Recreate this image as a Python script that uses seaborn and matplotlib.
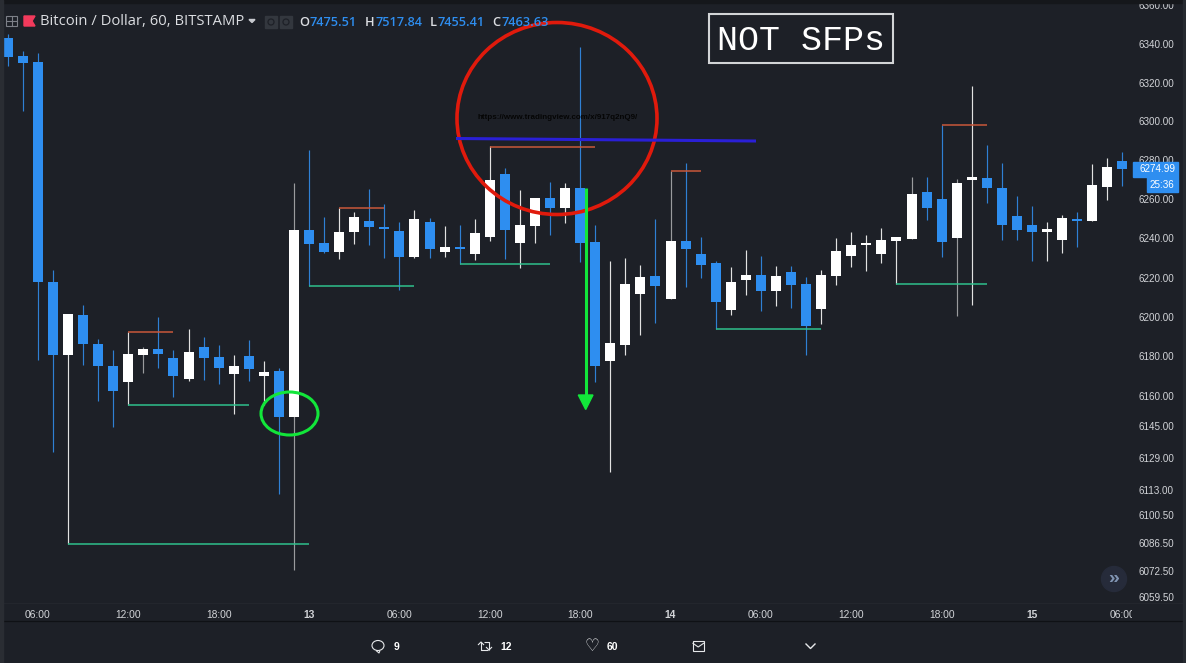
import numpy as np
import pandas as pd
import seaborn as sns
import matplotlib.pyplot as plt
import matplotlib.patches as mpatches
from matplotlib.transforms import Bbox

# hourly candles, hour 0 = 06:00 on the 12th
opens = [6343.1, 6333.8, 6330.7, 6217.7, 6180.7, 6201.0, 6186.2, 6175.1, 6167.1, 6180.7,
         6183.7, 6179.2, 6168.6, 6184.7, 6179.7, 6171.1, 6180.2, 6170.1, 6172.6, 6149.5,
         6244.2, 6237.6, 6233.0, 6243.2, 6248.8, 6245.8, 6243.7, 6230.4, 6248.3, 6233.0,
         6235.5, 6232.0, 6240.7, 6272.9, 6237.6, 6246.3, 6260.6, 6255.5, 6265.8, 6238.1,
         6177.7, 6185.7, 6211.6, 6220.8, 6209.1, 6238.6, 6232.0, 6227.4, 6203.5, 6218.8,
         6221.3, 6213.2, 6222.8, 6216.7, 6204.0, 6220.8, 6231.0, 6236.6, 6232.0, 6238.6,
         6239.6, 6263.7, 6260.1, 6240.1, 6269.9, 6270.9, 6265.8, 6251.4, 6246.8, 6243.2,
         6239.1, 6249.9, 6248.8, 6266.3, 6279.6]
highs = [6345.2, 6336.4, 6335.4, 6223.8, 6201.5, 6206.1, 6188.8, 6183.2, 6192.3, 6184.7,
         6199.9, 6183.2, 6193.9, 6189.8, 6185.7, 6180.7, 6188.3, 6177.7, 6174.1, 6268.3,
         6285.3, 6250.9, 6255.5, 6253.5, 6265.2, 6257.6, 6248.3, 6254.5, 6250.4, 6246.3,
         6246.8, 6249.9, 6287.3, 6276.0, 6264.7, 6260.6, 6268.8, 6268.3, 6338.5, 6246.8,
         6228.4, 6229.9, 6226.4, 6249.9, 6274.5, 6278.6, 6240.7, 6228.4, 6225.4, 6234.0,
         6231.0, 6225.9, 6225.9, 6220.3, 6223.8, 6240.1, 6243.2, 6241.7, 6245.3, 6240.7,
         6271.4, 6271.4, 6298.1, 6270.4, 6318.3, 6287.8, 6278.6, 6261.7, 6256.5, 6248.3,
         6251.9, 6253.5, 6278.1, 6281.0, 6284.2]
lows = [6328.6, 6305.3, 6178.2, 6131.9, 6085.9, 6175.6, 6157.5, 6144.4, 6155.5, 6171.6,
        6174.1, 6159.5, 6167.6, 6168.1, 6166.1, 6151.0, 6167.6, 6155.5, 6110.8, 6073.0,
        6215.7, 6232.5, 6229.4, 6237.1, 6236.6, 6229.9, 6213.7, 6229.9, 6229.9, 6230.4,
        6226.9, 6228.9, 6238.6, 6229.4, 6224.9, 6237.6, 6241.7, 6247.8, 6227.9, 6167.1,
        6121.9, 6180.7, 6190.8, 6196.9, 6209.1, 6215.2, 6219.8, 6193.9, 6201.0, 6211.1,
        6203.0, 6205.6, 6204.5, 6180.7, 6196.4, 6216.2, 6225.4, 6223.3, 6227.4, 6216.7,
        6239.6, 6249.4, 6230.4, 6200.5, 6206.1, 6258.1, 6239.1, 6239.1, 6228.4, 6228.4,
        6232.5, 6235.5, 6248.8, 6259.6, 6266.8]
closes = [6333.3, 6330.2, 6217.7, 6180.7, 6201.5, 6186.2, 6175.1, 6162.5, 6181.2, 6183.7,
          6181.2, 6170.1, 6182.2, 6179.2, 6174.1, 6175.1, 6173.6, 6172.1, 6149.5, 6244.2,
          6237.1, 6233.0, 6243.2, 6250.9, 6245.8, 6244.8, 6230.4, 6249.9, 6234.5, 6235.5,
          6234.5, 6242.7, 6269.9, 6244.2, 6246.8, 6260.6, 6255.5, 6265.8, 6237.6, 6175.1,
          6186.8, 6216.7, 6220.3, 6215.7, 6238.6, 6234.5, 6226.4, 6207.6, 6217.7, 6221.3,
          6213.2, 6220.8, 6216.2, 6195.4, 6221.3, 6233.5, 6236.6, 6237.6, 6239.1, 6240.7,
          6262.7, 6255.5, 6238.1, 6268.3, 6271.4, 6265.8, 6246.8, 6244.2, 6243.2, 6244.8,
          6250.4, 6248.8, 6267.3, 6276.5, 6275.5]
hours = list(range(-2, 73))
gray_wick_hours = [7, 17, 42, 58, 61]

# hand drawn swing levels: start hour, end hour, price
red_starts = [6, 20, 30, 42, 60]
red_ends = [9, 23, 37, 44, 63]
red_prices = [6192.3, 6255.3, 6286.8, 6274.5, 6298.1]
green_starts = [2, 6, 18, 28, 45, 57]
green_ends = [18, 14, 25, 34, 52, 63]
green_prices = [6085.9, 6155.5, 6215.5, 6226.9, 6193.9, 6216.7]

price_ticks = [6360, 6340, 6320, 6300, 6280, 6260, 6240, 6220, 6200, 6180, 6160,
               6145, 6129, 6113, 6100.5, 6086.5, 6072.5, 6059.5]
time_ticks = [0, 6, 12, 18, 24, 30, 36, 42, 48, 54, 60, 66, 72]
time_labels = ['06:00', '12:00', '18:00', '13', '06:00', '12:00', '18:00', '14',
               '06:00', '12:00', '18:00', '15', '06:00']

BG = '#1d2027'
BLUE = '#2e8ef0'
TXT = '#d2d4d8'

sns.set_theme(style='dark', rc={'axes.facecolor': BG, 'figure.facecolor': BG,
                                'lines.solid_capstyle': 'butt', 'axes.grid': False})
plt.rcParams['font.family'] = ['Liberation Sans', 'DejaVu Sans']

fig = plt.figure(figsize=(11.86, 6.63), dpi=100)
ax = fig.add_axes([3 / 1186, 60 / 663, 1129 / 1186, 600 / 663])
ax.set_yscale('log')

candles = pd.DataFrame({'hour': hours, 'open': opens, 'high': highs, 'low': lows, 'close': closes})
candles['side'] = np.where(candles['close'] > candles['open'], 'up', 'down')
candles['wick'] = np.where(candles['hour'].isin(gray_wick_hours), 'gray', candles['side'])

wicks = candles.melt(id_vars=['hour', 'wick'], value_vars=['high', 'low'], value_name='price')
bodies = candles.melt(id_vars=['hour', 'side'], value_vars=['open', 'close'], value_name='price')

sns.lineplot(data=wicks, x='hour', y='price', hue='wick', units='hour', estimator=None,
             palette={'up': '#e2e2e2', 'down': '#2f80d4', 'gray': '#9a9b9e'}, lw=0.85,
             legend=False, ax=ax)
sns.lineplot(data=bodies, x='hour', y='price', hue='side', units='hour', estimator=None,
             palette={'up': '#ffffff', 'down': BLUE}, lw=7.2, legend=False, ax=ax,
             solid_capstyle='butt')


def level_frame(starts, ends, prices):
    rows = []
    for i, (a, b, p) in enumerate(zip(starts, ends, prices)):
        rows += [{'id': i, 'hour': a, 'price': p}, {'id': i, 'hour': b, 'price': p}]
    return pd.DataFrame(rows)


sns.lineplot(data=level_frame(red_starts, red_ends, red_prices), x='hour', y='price',
             units='id', estimator=None, color='#c9583a', lw=1.1, ax=ax)
sns.lineplot(data=level_frame(green_starts, green_ends, green_prices), x='hour', y='price',
             units='id', estimator=None, color='#2fc08c', lw=1.1, ax=ax)

ax.set_xlim(-2.32, 72.64)
ax.set_ylim(6056.6, 6361.3)
ax.set_xlabel('')
ax.set_ylabel('')
ax.yaxis.set_minor_locator(plt.NullLocator())
ax.yaxis.tick_right()
ax.set_yticks(price_ticks)
ax.set_yticklabels([f'{p:.2f}' for p in price_ticks])
ax.set_xticks(time_ticks)
ax.set_xticklabels(time_labels)
ax.tick_params(axis='y', length=0, pad=5, labelsize=7.1, labelcolor=TXT)
ax.tick_params(axis='x', length=0, pad=5, labelsize=7.4, labelcolor=TXT)
for s in ax.spines.values():
    s.set_visible(False)
time_clip = Bbox([[0, 0], [1132, 663]])
for lab in ax.get_xticklabels():
    lab.set_clip_box(time_clip)
    lab.set_clip_on(True)
    if len(lab.get_text()) == 2:
        lab.set_fontweight('bold')

# screen space layer: chart chrome and the hand drawn marks
ov = fig.add_axes([0, 0, 1, 1], facecolor='none')
ov.set_xlim(0, 1186)
ov.set_ylim(663, 0)
ov.axis('off')

ov.add_patch(mpatches.Rectangle((0, 0), 1186, 3, color='#15171b', zorder=5))
ov.add_patch(mpatches.Rectangle((0, 0), 2.5, 663, color='#2a2d33', zorder=5))
ov.add_patch(mpatches.Rectangle((1183, 0), 3, 663, color='#262a30', zorder=5))
ov.plot([0, 1186], [603, 603], color='#23262d', lw=0.8)
ov.plot([0, 1186], [621, 621], color='#0f1115', lw=0.9)

# header
ov.add_patch(mpatches.Rectangle((6, 16), 11, 10, fill=False, ec='#7d8088', lw=0.8))
ov.plot([11.5, 11.5], [16, 26], color='#7d8088', lw=0.8)
ov.plot([6, 17], [21, 21], color='#7d8088', lw=0.8)
ov.add_patch(mpatches.Polygon([(24, 16), (35, 16), (32, 21), (35, 26), (24, 26)], color='#f23a5c'))
ov.text(39.5, 21.5, 'Bitcoin / Dollar, 60, BITSTAMP', color='#dcdee2', fontsize=10.6,
        family='Open Sans', va='center')
ov.add_patch(mpatches.Polygon([(249, 19.5), (255, 19.5), (252, 22.5)], color='#c8cad0'))
for bx in (265, 280):
    ov.add_patch(mpatches.Rectangle((bx, 16), 12, 12, color='#33373e'))
    ov.add_patch(mpatches.Circle((bx + 6, 22), 3, fill=False, ec='#1d2027', lw=0.9))
for lx, vx, key, val in [(299, 310, 'O', '7475.51'), (365, 375, 'H', '7517.84'),
                         (429.5, 438, 'L', '7455.41'), (492, 502, 'C', '7463.63')]:
    ov.text(lx, 22, key, color='#dcdee2', fontsize=9.2, family='Open Sans', va='center',
            fontweight='semibold')
    ov.text(vx, 22, val, color=BLUE, fontsize=9.2, family='Open Sans', va='center',
            fontweight='semibold')

# price labels on the axis
ov.add_patch(mpatches.Rectangle((1133, 162), 45, 14.5, color=BLUE, zorder=3))
ov.text(1139, 169.5, '6274.99', color='white', fontsize=7.1, va='center', zorder=4)
ov.add_patch(mpatches.Rectangle((1147, 177), 31, 14.5, color=BLUE, zorder=3))
ov.text(1149.5, 184.5, '25:36', color='white', fontsize=7.1, va='center', zorder=4)

# annotations
ov.text(477, 117.5, 'https://www.tradingview.com/x/917q2nQ9/', color='#050505', fontsize=5.8,
        fontweight='bold', va='center')
ov.plot([456, 756], [138.5, 141], color='#2a1fd6', lw=2.2, solid_capstyle='butt')
ov.add_patch(mpatches.Ellipse((557, 118.5), 200, 192, fill=False, ec='#e01a0c', lw=2.6))
ov.add_patch(mpatches.Ellipse((289.5, 413.5), 57, 43, fill=False, ec='#12e63a', lw=2.2))
ov.plot([585.7, 585.7], [188, 396], color='#12e63a', lw=2.2, solid_capstyle='butt')
ov.add_patch(mpatches.Polygon([(578.3, 395), (593, 395), (585.7, 409.5)], color='#12e63a'))
ov.add_patch(mpatches.Rectangle((709, 14), 184, 49, fill=False, ec='#d2d4d6', lw=1.5))
ov.text(801, 40.5, 'NOT SFPs', color='white', fontsize=25.2, family='Liberation Mono',
        ha='center', va='center')

# scroll button
ov.add_patch(mpatches.Circle((1114, 579), 12.5, color='#262b3a'))
ov.text(1114, 578, '»', color='#8195b3', fontsize=14, ha='center', va='center', fontweight='bold')

# tweet toolbar
ICON = '#e6e8ea'
ov.add_patch(mpatches.Ellipse((378, 645.5), 12, 10, fill=False, ec=ICON, lw=0.8))
ov.plot([376, 379, 380], [650.5, 653, 650.5], color=ICON, lw=0.8)
ov.text(396.5, 646.5, '9', color='white', fontsize=7.5, fontweight='bold', ha='center', va='center')
ov.plot([481, 481, 488], [642, 650, 650], color=ICON, lw=0.8)
ov.plot([478, 481, 484], [645, 642, 645], color=ICON, lw=0.8)
ov.plot([484, 489, 489], [642, 642, 650], color=ICON, lw=0.8)
ov.plot([486, 489, 492], [647, 650, 647], color=ICON, lw=0.8)
ov.text(506, 646.5, '12', color='white', fontsize=7.5, fontweight='bold', ha='center', va='center')
ov.text(592, 646, '♡', color=ICON, fontsize=12, family='DejaVu Sans', ha='center', va='center')
ov.text(612.5, 646.5, '60', color='white', fontsize=7.5, fontweight='bold', ha='center', va='center')
ov.add_patch(mpatches.Rectangle((692.5, 641), 11.5, 10, fill=False, ec=ICON, lw=0.8))
ov.plot([692.5, 698.2, 704], [643, 647, 643], color=ICON, lw=0.8)
ov.plot([805.5, 810.5, 815.5], [643.5, 648.5, 643.5], color=ICON, lw=1)

plt.savefig('out.png', dpi=100, facecolor=BG)
